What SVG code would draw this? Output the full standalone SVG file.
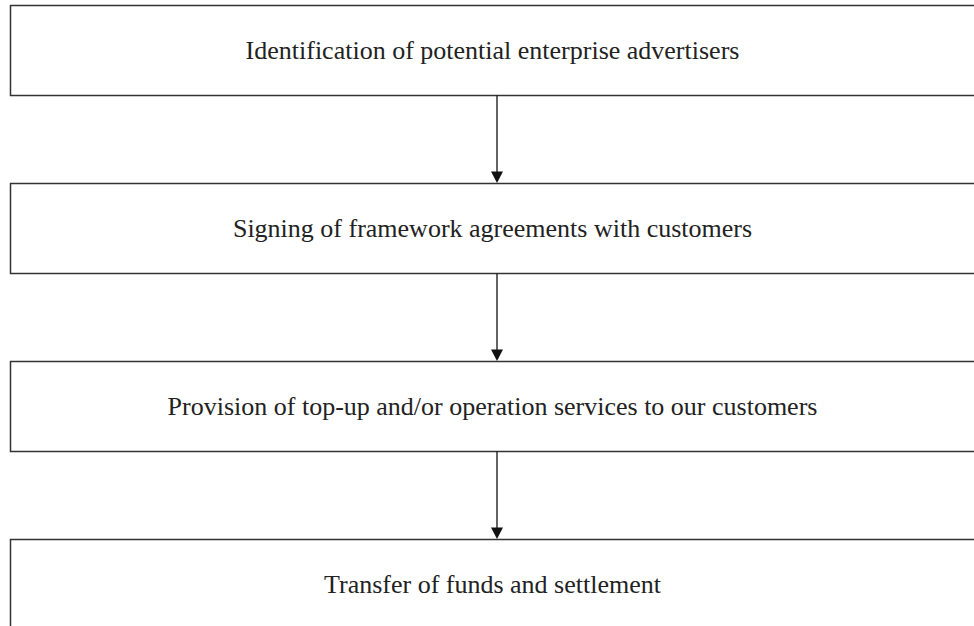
<svg xmlns="http://www.w3.org/2000/svg" width="974" height="626" viewBox="0 0 974 626">
<defs>
<style>
.box{fill:#fff;stroke:#333;stroke-width:1.5}
.lbl{font-family:"Liberation Serif","Times New Roman",serif;font-size:26px;fill:#222;text-anchor:middle}
.con{stroke:#111;stroke-width:1.3;fill:none}
.ah{fill:#111}
</style>
</defs>
<rect width="974" height="626" fill="#fff"/>
<g id="n1"><rect class="box" x="10.5" y="5.5" width="980" height="90"/><text class="lbl" x="492.5" y="59">Identification of potential enterprise advertisers</text></g>
<g id="n2"><rect class="box" x="10.5" y="183.5" width="980" height="90"/><text class="lbl" x="492.5" y="237">Signing of framework agreements with customers</text></g>
<g id="n3"><rect class="box" x="10.5" y="361.5" width="980" height="90"/><text class="lbl" x="492.5" y="415">Provision of top-up and/or operation services to our customers</text></g>
<g id="n4"><rect class="box" x="10.5" y="539.5" width="980" height="120"/><text class="lbl" x="492.5" y="593">Transfer of funds and settlement</text></g>
<g id="connectors">
<line class="con" x1="497" y1="95.5" x2="497" y2="172"/><polygon class="ah" points="491,171.5 503,171.5 497,183"/>
<line class="con" x1="497" y1="273.5" x2="497" y2="350"/><polygon class="ah" points="491,349.5 503,349.5 497,361"/>
<line class="con" x1="497" y1="451.5" x2="497" y2="528"/><polygon class="ah" points="491,527.5 503,527.5 497,539"/>
</g>
</svg>
